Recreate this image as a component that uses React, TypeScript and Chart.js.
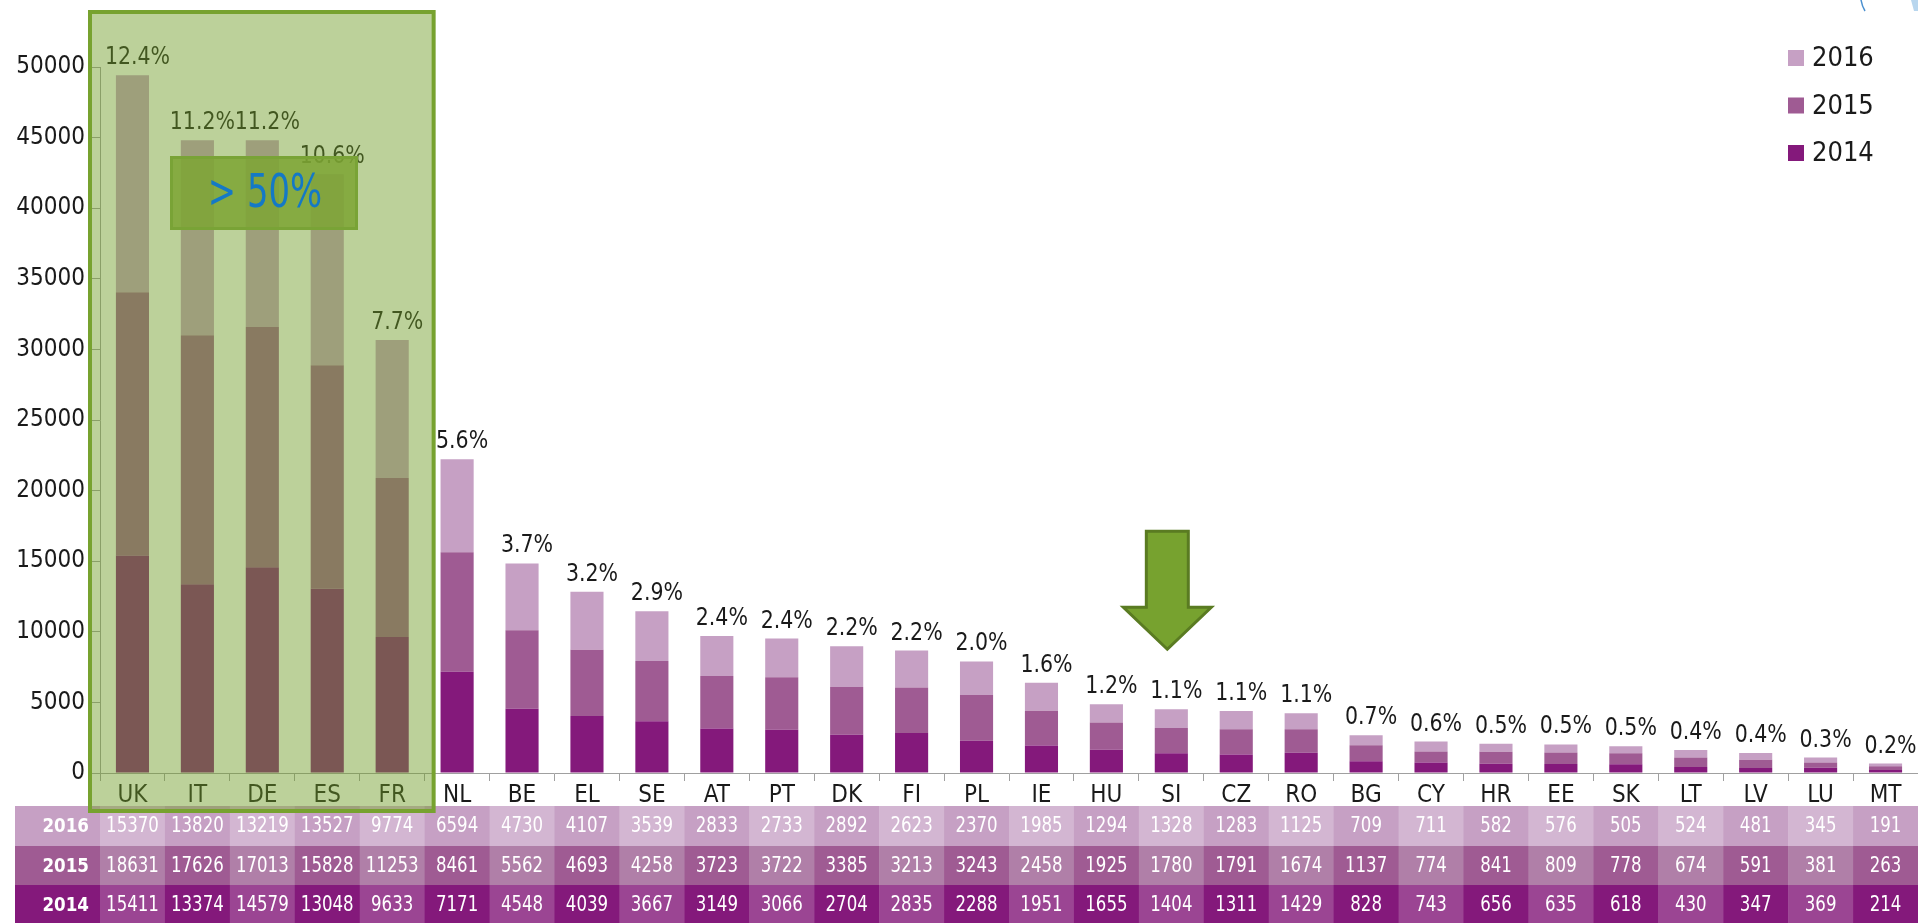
import React, { useEffect, useRef } from "react";
import { Chart, registerables } from "chart.js";

Chart.register(...registerables);

const CATEGORIES = ["UK","IT","DE","ES","FR","NL","BE","EL","SE","AT","PT","DK","FI","PL","IE","HU","SI","CZ","RO","BG","CY","HR","EE","SK","LT","LV","LU","MT"];
const Y2016 = [15370,13820,13219,13527,9774,6594,4730,4107,3539,2833,2733,2892,2623,2370,1985,1294,1328,1283,1125,709,711,582,576,505,524,481,345,191];
const Y2015 = [18631,17626,17013,15828,11253,8461,5562,4693,4258,3723,3722,3385,3213,3243,2458,1925,1780,1791,1674,1137,774,841,809,778,674,591,381,263];
const Y2014 = [15411,13374,14579,13048,9633,7171,4548,4039,3667,3149,3066,2704,2835,2288,1951,1655,1404,1311,1429,828,743,656,635,618,430,347,369,214];
const SHARES = ["12.4%","11.2%","11.2%","10.6%","7.7%","5.6%","3.7%","3.2%","2.9%","2.4%","2.4%","2.2%","2.2%","2.0%","1.6%","1.2%","1.1%","1.1%","1.1%","0.7%","0.6%","0.5%","0.5%","0.5%","0.4%","0.4%","0.3%","0.2%"];
const YEARS = ["2016","2015","2014"];
const HIGHLIGHT_COUNT = 5;
const HIGHLIGHT_TEXT = "> 50%";
const ARROW_INDEX = 16;

const FONT = "'DejaVu Sans Condensed', 'DejaVu Sans', sans-serif";
const C2016 = "#c6a0c4";
const C2015 = "#9f5b93";
const C2014 = "#84197b";
const LIGHT = { "2016": "#d3b6d2", "2015": "#b07fa8", "2014": "#9b4593" };
const DARK = { "2016": C2016, "2015": C2015, "2014": C2014 };
const ROWDATA = { "2016": Y2016, "2015": Y2015, "2014": Y2014 };

function squeezeText(ctx: any, text: string, x: number, y: number, sx: number) {
  ctx.save();
  ctx.translate(x, y);
  ctx.scale(sx, 1);
  ctx.fillText(text, 0, 0);
  ctx.restore();
}

const overlayPlugin = {
  id: "overlays",
  afterDraw(chart: any) {
    const ctx = chart.ctx;
    const xs = chart.scales.x;
    const ca = chart.chartArea;
    const w = (xs.getPixelForValue(1) - xs.getPixelForValue(0));
    const topMeta = chart.getDatasetMeta(2);
    ctx.save();

    // percentage labels
    ctx.font = `24px ${FONT}`;
    ctx.fillStyle = "#1a1a1a";
    ctx.textAlign = "center";
    ctx.textBaseline = "alphabetic";
    topMeta.data.forEach((bar: any, i: number) => {
      squeezeText(ctx, SHARES[i], bar.x + 5, bar.y - 11, 0.95);
    });

    // table
    const rowTop = [806, 846, 885];
    const rowH = [40, 39, 40];
    YEARS.forEach((yr, r) => {
      const y0 = rowTop[r];
      const h = rowH[r];
      ctx.fillStyle = (DARK as any)[yr];
      ctx.fillRect(15, y0, ca.left - 15, h);
      ctx.fillStyle = "#ffffff";
      ctx.font = `bold 20px ${FONT}`;
      ctx.textAlign = "right";
      ctx.textBaseline = "middle";
      squeezeText(ctx, yr, ca.left - 11, y0 + h / 2 + 1, 0.93);
      const vals = (ROWDATA as any)[yr];
      CATEGORIES.forEach((_, i) => {
        const cx = xs.getPixelForValue(i);
        ctx.fillStyle = i % 2 === 0 ? (LIGHT as any)[yr] : (DARK as any)[yr];
        ctx.fillRect(cx - w / 2, y0, w + 0.5, h);
        ctx.fillStyle = "#ffffff";
        ctx.font = `20.5px ${FONT}`;
        ctx.textAlign = "center";
        squeezeText(ctx, String(vals[i]), cx, y0 + h / 2 + 1, 0.9);
      });
    });

    // green highlight box
    const hx0 = ca.left - 11;
    const hx1 = xs.getPixelForValue(HIGHLIGHT_COUNT - 1) + w / 2 + 10;
    const hy0 = 11;
    const hy1 = 812;
    ctx.fillStyle = "rgba(113,157,41,0.47)";
    ctx.fillRect(hx0, hy0, hx1 - hx0, hy1 - hy0);
    ctx.strokeStyle = "#77a22f";
    ctx.lineWidth = 4;
    ctx.strokeRect(hx0 + 1, hy0 + 1, hx1 - hx0 - 2, hy1 - hy0 - 2);

    // > 50% box
    const bx0 = 170, by0 = 156, bx1 = 358, by1 = 230;
    ctx.fillStyle = "rgba(124,164,52,0.85)";
    ctx.fillRect(bx0, by0, bx1 - bx0, by1 - by0);
    ctx.strokeStyle = "#79a336";
    ctx.lineWidth = 3;
    ctx.strokeRect(bx0 + 1.5, by0 + 1.5, bx1 - bx0 - 3, by1 - by0 - 3);
    ctx.fillStyle = "#1479c6";
    ctx.font = `47px ${FONT}`;
    ctx.textAlign = "center";
    ctx.textBaseline = "middle";
    squeezeText(ctx, HIGHLIGHT_TEXT, (bx0 + bx1) / 2 + 1, (by0 + by1) / 2 + 2, 0.8);

    // arrow
    const ab = topMeta.data[ARROW_INDEX];
    const tipX = ab.x - 4;
    const tipY = ab.y - 60;
    ctx.beginPath();
    ctx.moveTo(tipX - 21, tipY - 118);
    ctx.lineTo(tipX + 21, tipY - 118);
    ctx.lineTo(tipX + 21, tipY - 42);
    ctx.lineTo(tipX + 44, tipY - 42);
    ctx.lineTo(tipX, tipY);
    ctx.lineTo(tipX - 44, tipY - 42);
    ctx.lineTo(tipX - 21, tipY - 42);
    ctx.closePath();
    ctx.fillStyle = "#77a22f";
    ctx.fill();
    ctx.strokeStyle = "#5a7b22";
    ctx.lineWidth = 3;
    ctx.stroke();

    // legend
    const legendColors = [C2016, C2015, C2014];
    ctx.font = `27px ${FONT}`;
    ctx.textAlign = "left";
    ctx.textBaseline = "middle";
    YEARS.forEach((yr, k) => {
      const cy = 58 + k * 47.5;
      ctx.fillStyle = legendColors[k];
      ctx.fillRect(1788, cy - 8, 16, 16);
      ctx.fillStyle = "#1a1a1a";
      ctx.fillText(yr, 1812, cy + 1);
    });

    // top-right decoration
    ctx.strokeStyle = "#4a90d0";
    ctx.lineWidth = 1.5;
    ctx.beginPath();
    ctx.moveTo(1861, 0);
    ctx.quadraticCurveTo(1862, 6, 1865, 11);
    ctx.stroke();
    ctx.fillStyle = "#b8d6ee";
    ctx.beginPath();
    ctx.moveTo(1911, 0);
    ctx.lineTo(1918, 0);
    ctx.lineTo(1918, 11);
    ctx.lineTo(1914, 11);
    ctx.closePath();
    ctx.fill();

    ctx.restore();
  },
};

export default function App() {
  const ref = useRef<HTMLCanvasElement | null>(null);
  useEffect(() => {
    if (!ref.current) return;
    Chart.defaults.font.family = FONT;
    const chart = new Chart(ref.current, {
      type: "bar",
      data: {
        labels: CATEGORIES,
        datasets: [
          { label: "2014", data: Y2014, backgroundColor: C2014 },
          { label: "2015", data: Y2015, backgroundColor: C2015 },
          { label: "2016", data: Y2016, backgroundColor: C2016 },
        ],
      },
      options: {
        responsive: false,
        animation: false,
        devicePixelRatio: 1,
        layout: { padding: { top: 67, left: 0, right: 0, bottom: 0 } },
        plugins: { legend: { display: false }, tooltip: { enabled: false } },
        datasets: { bar: { categoryPercentage: 1, barPercentage: 0.51 } },
        scales: {
          x: {
            stacked: true,
            grid: { offset: true, drawOnChartArea: false, tickLength: 8, color: "#a0a0a0" },
            border: { color: "#a0a0a0" },
            ticks: { font: { size: 24 }, color: "#1a1a1a", padding: 0, maxRotation: 0, autoSkip: false },
            afterFit: (s: any) => { s.height = 150; },
          },
          y: {
            stacked: true,
            min: 0,
            max: 50000,
            ticks: { stepSize: 5000, font: { size: 24 }, color: "#1a1a1a", padding: 7, callback: (v: any) => String(v) },
            grid: { drawOnChartArea: false, tickLength: 8, color: "#a0a0a0" },
            border: { color: "#a0a0a0" },
            afterFit: (s: any) => { s.width = 100; },
          },
        },
      } as any,
      plugins: [overlayPlugin],
    });
    return () => chart.destroy();
  }, []);
  return (
    <div style={{ position: "fixed", left: 0, top: 0, width: 1918, height: 923, background: "#ffffff" }}>
      <canvas ref={ref} width={1918} height={923} style={{ display: "block" }} />
    </div>
  );
}
